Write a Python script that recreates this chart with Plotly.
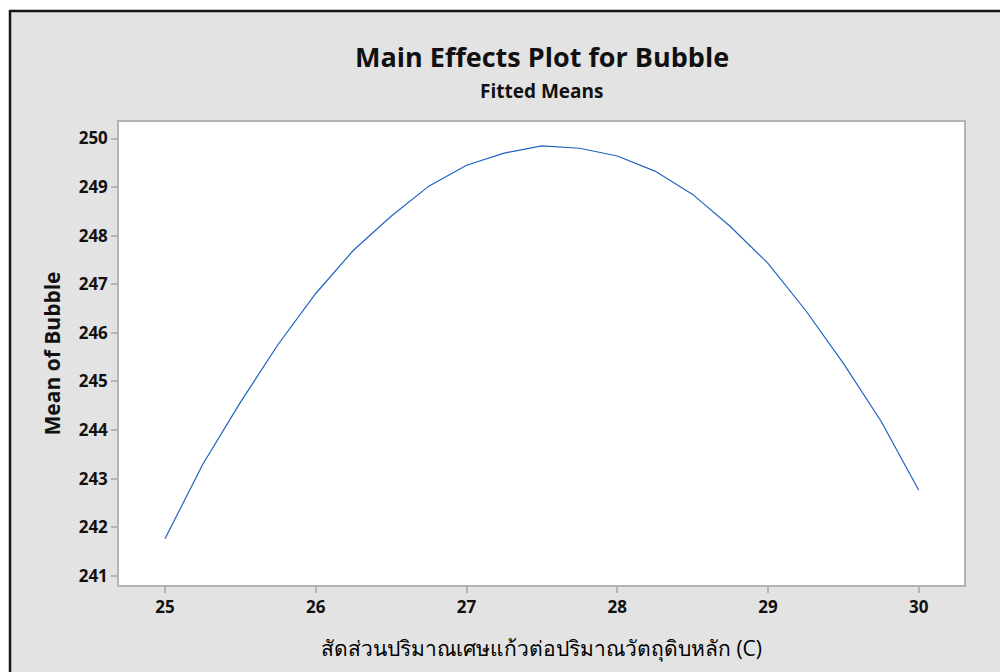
import plotly.graph_objects as go

# Fitted means of Bubble across the glass-cullet ratio factor (C)
ratio_c = [25.0, 25.25, 25.5, 25.75, 26.0, 26.25, 26.5, 26.75, 27.0, 27.25, 27.5,
           27.75, 28.0, 28.25, 28.5, 28.75, 29.0, 29.25, 29.5, 29.75, 30.0]
mean_bubble = [241.76, 243.29, 244.57, 245.76, 246.81, 247.70, 248.40, 249.02, 249.45,
               249.70, 249.85, 249.80, 249.64, 249.33, 248.85, 248.19, 247.43, 246.46,
               245.37, 244.18, 242.76]

x_ticks = [25, 26, 27, 28, 29, 30]
y_ticks = [241, 242, 243, 244, 245, 246, 247, 248, 249, 250]

title_text = "Main Effects Plot for Bubble"
subtitle_text = "Fitted Means"
x_title = "สัดส่วนปริมาณเศษแก้วต่อปริมาณวัตถุดิบหลัก (C)"
y_title = "Mean of Bubble"

W, H = 1000, 672
M_L, M_R, M_T, M_B = 119, 36, 122, 87
PLOT_H = H - M_T - M_B

BG = "#e3e3e3"
AXIS_GREY = "#b4b4b4"
FONT = "Open Sans, Noto Sans, DejaVu Sans, sans-serif"


def py_to_paper(py):
    return (H - M_B - py) / PLOT_H


fig = go.Figure()
fig.add_trace(go.Scatter(
    x=ratio_c, y=mean_bubble, mode="lines",
    line=dict(color="#1f63c0", width=1.2),
    hoverinfo="x+y", showlegend=False,
))

axis_common = dict(
    showline=True, linecolor=AXIS_GREY, linewidth=1.5, mirror=True,
    ticks="outside", ticklen=6, tickwidth=1.5, tickcolor=AXIS_GREY,
    showgrid=False, zeroline=False,
    tickfont=dict(family=FONT, size=17, color="#111111", weight="bold"),
)

fig.update_layout(
    width=W, height=H,
    margin=dict(l=M_L, r=M_R, t=M_T, b=M_B),
    paper_bgcolor=BG, plot_bgcolor="white",
    xaxis=dict(range=[24.695, 30.3], tickvals=x_ticks,
               title=dict(text=x_title, standoff=24,
                          font=dict(family=FONT, size=21, color="#000000")),
               **axis_common),
    yaxis=dict(range=[240.81, 250.34], tickvals=y_ticks,
               title=dict(text=y_title, standoff=12,
                          font=dict(family=FONT, size=21, color="#111111", weight="bold")),
               **axis_common),
    annotations=[
        dict(text=title_text, xref="paper", yref="paper", x=0.5, y=py_to_paper(57),
             xanchor="center", yanchor="middle", showarrow=False,
             font=dict(family=FONT, size=27, color="#111111", weight="bold")),
        dict(text=subtitle_text, xref="paper", yref="paper", x=0.5, y=py_to_paper(91),
             xanchor="center", yanchor="middle", showarrow=False,
             font=dict(family=FONT, size=19, color="#111111", weight="bold")),
    ],
)

# Outer frame: white margin strips along the top and left, dark border lines
frame_shapes = [
    dict(type="rect", xref="paper", yref="paper",
         x0=-M_L / 845 - 0.01, x1=1.2, y0=py_to_paper(10), y1=py_to_paper(-5),
         fillcolor="white", line=dict(width=0), layer="above"),
    dict(type="rect", xref="paper", yref="paper",
         x0=-M_L / 845 - 0.01, x1=(9 - M_L) / 845, y0=py_to_paper(H + 5), y1=py_to_paper(-5),
         fillcolor="white", line=dict(width=0), layer="above"),
    dict(type="line", xref="paper", yref="paper",
         x0=(9 - M_L) / 845, x1=1.2, y0=py_to_paper(11), y1=py_to_paper(11),
         line=dict(color="#151515", width=2.5), layer="above"),
    dict(type="line", xref="paper", yref="paper",
         x0=(10 - M_L) / 845, x1=(10 - M_L) / 845, y0=py_to_paper(10), y1=py_to_paper(H + 5),
         line=dict(color="#151515", width=2.5), layer="above"),
]
fig.update_layout(shapes=frame_shapes)

fig.write_html("out.html")
